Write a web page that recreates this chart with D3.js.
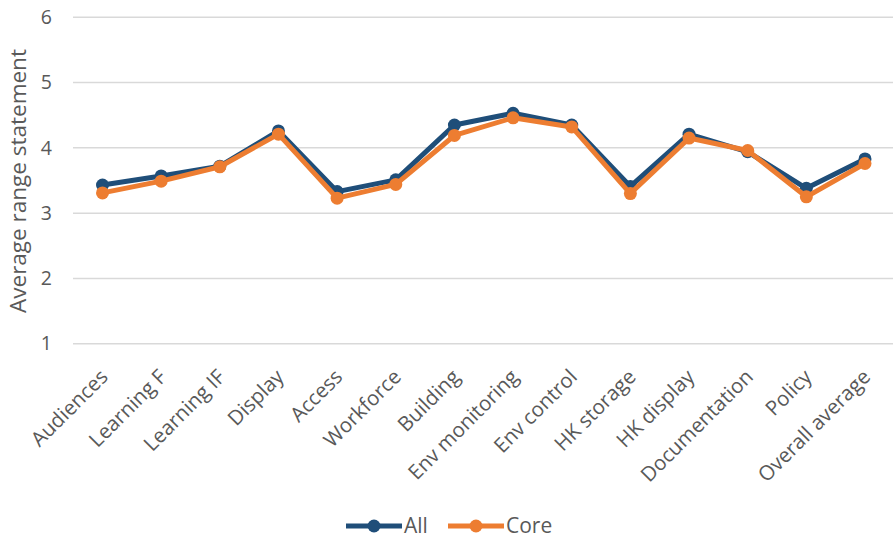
<!DOCTYPE html>
<html><head><meta charset="utf-8">
<script src="https://cdn.jsdelivr.net/npm/d3@7"></script>
<style>body{margin:0;background:#fff}svg{display:block}text{font-family:"Open Sans",sans-serif;fill:#595959}</style>
</head><body><svg id="c" width="895" height="541"></svg>
<script>
const categories = ["Audiences","Learning F","Learning IF","Display","Access","Workforce","Building","Env monitoring","Env control","HK storage","HK display","Documentation","Policy","Overall average"];
const allValues  = [3.43,3.57,3.72,4.26,3.33,3.51,4.35,4.53,4.35,3.41,4.21,3.94,3.38,3.83];
const coreValues = [3.31,3.49,3.71,4.21,3.23,3.44,4.19,4.46,4.32,3.30,4.15,3.96,3.25,3.76];
const yTicks = [1,2,3,4,5,6];
const seriesNames = ["All","Core"];
const colors = ["#1f4e79","#ed7d31"];

const svg = d3.select("#c");
const x = d3.scalePoint().domain(categories).range([102.5, 865]);
const y = d3.scaleLinear().domain([1,6]).range([343.7, 17.3]);

// gridlines
svg.append("g").selectAll("line").data(yTicks).join("line")
  .attr("x1",73).attr("x2",893).attr("y1",d=>y(d)).attr("y2",d=>y(d))
  .attr("stroke","#d9d9d9").attr("stroke-width",1.5);

// y axis labels
const yAxis = svg.append("g").attr("transform","translate(52,0)")
  .call(d3.axisLeft(y).tickValues(yTicks).tickSize(0).tickPadding(0).tickFormat(d3.format("d")));
yAxis.select(".domain").remove();
yAxis.selectAll("text").attr("font-size",19.5).attr("fill","#595959").style("font-family","Open Sans");

svg.append("text").attr("transform","translate(26,181) rotate(-90)")
  .attr("text-anchor","middle").attr("font-size",22.5).text("Average range statement");

// x axis labels
const xAxis = svg.append("g").attr("transform","translate(0,354)")
  .call(d3.axisBottom(x).tickSize(0).tickPadding(0));
xAxis.select(".domain").remove();
xAxis.selectAll("text").attr("font-size",20.5).attr("fill","#595959").style("font-family","Open Sans")
  .attr("text-anchor","end").attr("dy","0.7em").attr("dx","0")
  .attr("transform","translate(-4,14) rotate(-45)");

const series = [allValues, coreValues];
const line = d3.line().x((d,i)=>x(categories[i])).y(d=>y(d));
series.forEach((vals,k)=>{
  const g = svg.append("g");
  g.append("path").datum(vals).attr("d",line).attr("fill","none")
    .attr("stroke",colors[k]).attr("stroke-width",5).attr("stroke-linejoin","round");
  g.selectAll("circle").data(vals).join("circle")
    .attr("cx",(d,i)=>x(categories[i])).attr("cy",d=>y(d)).attr("r",6.5)
    .attr("fill",colors[k]);
});

// legend
const legX = [346, 448];
seriesNames.forEach((n,k)=>{
  const g = svg.append("g").attr("transform",`translate(${legX[k]},526)`);
  g.append("line").attr("x1",0).attr("x2",56).attr("stroke",colors[k]).attr("stroke-width",5);
  g.append("circle").attr("cx",28).attr("r",6.5).attr("fill",colors[k]);
  g.append("text").attr("x",58).attr("dy","0.35em").attr("font-size",21).text(n);
});
</script></body></html>
